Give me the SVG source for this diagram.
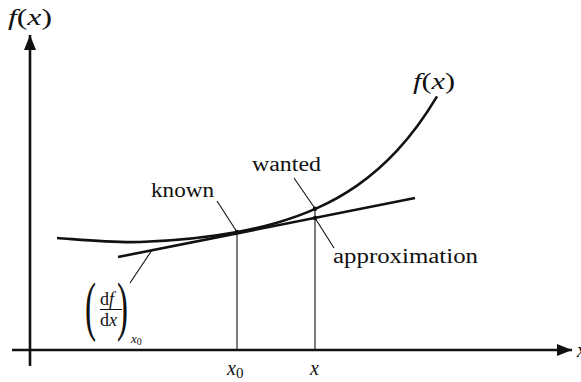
<svg xmlns="http://www.w3.org/2000/svg" width="581" height="382" viewBox="0 0 581 382">
<style>
text{font-family:"Liberation Serif","DejaVu Serif",serif;fill:#111;}
.i{font-style:italic;}
.lbl{font-size:20px;}
.thick{stroke:#111;stroke-width:2.6;fill:none;stroke-linecap:butt;}
.thin{stroke:#111;stroke-width:1.1;fill:none;}
</style>
<defs>
<marker id="ah" markerWidth="16" markerHeight="12" refX="15" refY="6" orient="auto" markerUnits="userSpaceOnUse">
<path d="M0,0 L15,6 L0,12 Z" fill="#111"/>
</marker>
</defs>
<g id="axes">
<line class="thick" x1="12" y1="350" x2="572" y2="350" marker-end="url(#ah)"/>
<line class="thick" x1="30" y1="366" x2="30" y2="35" marker-end="url(#ah)"/>
<text class="i" font-size="24" x="8" y="25" textLength="44" lengthAdjust="spacingAndGlyphs">f<tspan font-style="normal">(</tspan>x<tspan font-style="normal">)</tspan></text>
<text class="lbl i" x="577" y="357">x</text>
</g>
<g id="curve">
<path class="thick" d="M57,238 C70.8,238.7 110,243 140,242 C170,241 204.7,238 237,232 C250.33,229.52 263.67,226.5 277,222.65 C290.33,218.8 303.67,214.12 317,208.15 C330.33,202.18 343.67,194.92 357,185.64 C370.33,176.36 383.67,165.11 397,150.7 C410.33,136.29 423.67,118.79 437,96.4"/>
<text class="i" font-size="24" x="413" y="89" textLength="42" lengthAdjust="spacingAndGlyphs">f<tspan font-style="normal">(</tspan>x<tspan font-style="normal">)</tspan></text>
</g>
<g id="tangent">
<line class="thick" x1="118" y1="257" x2="415" y2="198"/>
</g>
<g id="connectors">
<line class="thin" x1="237" y1="232" x2="237" y2="350"/>
<line class="thin" x1="315" y1="208.5" x2="315" y2="350"/>
<line class="thin" x1="217" y1="201" x2="237" y2="232"/>
<line class="thin" x1="294" y1="178" x2="315" y2="208.5"/>
<line class="thin" x1="315" y1="218" x2="334" y2="248"/>
<line class="thin" x1="152" y1="250" x2="130" y2="283"/>
<circle cx="237" cy="232" r="2.2" fill="#111"/>
<circle cx="315" cy="208.8" r="2.2" fill="#111"/>
<circle cx="315" cy="218" r="2.2" fill="#111"/>
</g>
<g id="known"><text class="lbl" x="151" y="197" textLength="63" lengthAdjust="spacingAndGlyphs">known</text></g>
<g id="wanted"><text class="lbl" x="252" y="171" textLength="69" lengthAdjust="spacingAndGlyphs">wanted</text></g>
<g id="approximation"><text class="lbl" x="333" y="263" textLength="145" lengthAdjust="spacingAndGlyphs">approximation</text></g>
<g id="x0"><text class="lbl i" x="227" y="375">x<tspan font-style="normal" font-size="15" dy="3">0</tspan></text></g>
<g id="xlabel"><text class="lbl i" x="310" y="375">x</text></g>
<g id="derivative">
<text font-size="66" transform="translate(85,328) scale(0.5,1)">(</text>
<text font-size="66" transform="translate(117,328) scale(0.5,1)">)</text>
<text font-size="18" x="100" y="305">d<tspan class="i">f</tspan></text>
<line x1="100" y1="309.5" x2="122" y2="309.5" stroke="#111" stroke-width="1"/>
<text font-size="18" x="100" y="326">d<tspan class="i">x</tspan></text>
<text font-size="13" class="i" x="131" y="343">x<tspan font-style="normal" font-size="10" dy="2">0</tspan></text>
</g>
</svg>
